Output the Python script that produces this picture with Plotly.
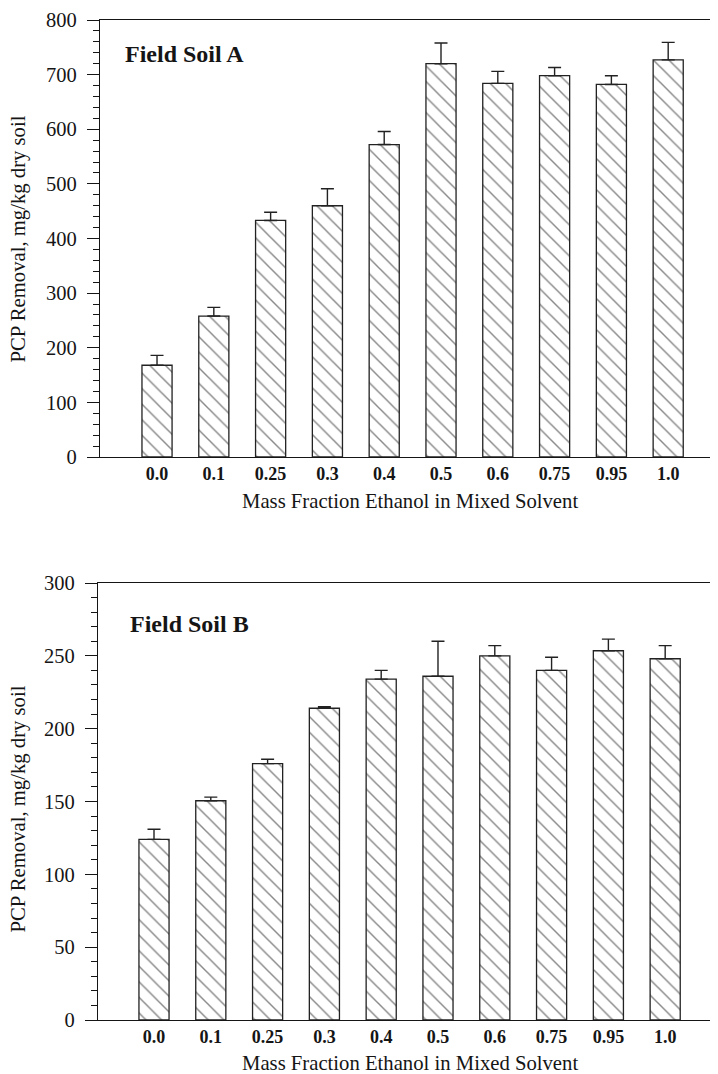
import plotly.graph_objects as go

categories = ["0.0", "0.1", "0.25", "0.3", "0.4", "0.5", "0.6", "0.75", "0.95", "1.0"]

soil_a_values = [168, 258, 433, 460, 572, 720, 684, 698, 682, 727]
soil_a_errors = [18, 16, 15, 31, 24, 38, 22, 15, 16, 32]

soil_b_values = [124, 150.5, 176, 214, 234, 236, 250, 240, 253.5, 248]
soil_b_errors = [7, 2.5, 3, 1, 6, 24, 7, 9, 8, 9]

y_title = "PCP Removal, mg/kg dry soil"
x_title = "Mass Fraction Ethanol in Mixed Solvent"

SERIF = "Liberation Serif"
INK = "#151515"

# the page body has an 8px margin, so the figure starts at page (8, 8)
OFF = 8
W, H = 718 - OFF, 1074 - OFF
ML, MR, MT, MB = 97 - OFF, 0, 20 - OFF, 54
PW, PH = W - ML - MR, H - MT - MB


def px_x(x_page):
    return (x_page - OFF - ML) / PW


def px_y(y_page):
    return (H - MB - (y_page - OFF)) / PH


def bar_trace(vals, errs, xa, ya):
    return go.Bar(
        x=categories, y=vals, xaxis=xa, yaxis=ya, width=0.53,
        marker=dict(color="white",
                    line=dict(color="#222222", width=1.3),
                    pattern=dict(shape="\\", size=11, solidity=0.13,
                                 fgcolor="#111111", bgcolor="white")),
        error_y=dict(type="data", array=errs, symmetric=False,
                     arrayminus=[0] * len(errs), color="#222222",
                     thickness=1.4, width=6.5),
        showlegend=False, hoverinfo="skip",
    )


fig = go.Figure()
fig.add_trace(bar_trace(soil_a_values, soil_a_errors, "x", "y"))
fig.add_trace(bar_trace(soil_b_values, soil_b_errors, "x2", "y2"))

xcommon = dict(type="category", categoryorder="array", categoryarray=categories,
               showline=True, linecolor=INK, linewidth=1.3, mirror=True,
               ticks="", showgrid=False, zeroline=False,
               tickfont=dict(family=SERIF, size=18, color=INK, weight="bold"),
               fixedrange=True)
ycommon = dict(showline=True, linecolor=INK, linewidth=1.3, ticks="outside",
               ticklen=12, tickwidth=1.3, tickcolor=INK, showgrid=False,
               zeroline=False, ticklabelstandoff=6,
               tickfont=dict(family=SERIF, size=20.5, color=INK), fixedrange=True)

fig.update_layout(
    width=W, height=H,
    margin=dict(l=ML, r=MR, t=MT, b=MB),
    paper_bgcolor="white", plot_bgcolor="white",
    bargap=0.47,
    xaxis=dict(xcommon, domain=[px_x(100), 1], anchor="y",
               range=[-1.004, 9.877]),
    yaxis=dict(ycommon, domain=[px_y(457), px_y(20)], anchor="x",
               range=[0, 800], tickvals=list(range(0, 801, 100)),
               minor=dict(tickvals=[v for v in range(0, 801, 20) if v % 100],
                          ticks="outside", ticklen=6, tickwidth=1.1,
                          tickcolor=INK, showgrid=False)),
    xaxis2=dict(xcommon, domain=[px_x(98), 1], anchor="y2",
                range=[-0.986, 9.93]),
    yaxis2=dict(ycommon, domain=[px_y(1020), px_y(583)], anchor="x2",
                range=[0, 300], tickvals=list(range(0, 301, 50)),
                minor=dict(tickvals=[v for v in range(0, 301, 10) if v % 50],
                           ticks="outside", ticklen=6, tickwidth=1.1,
                           tickcolor=INK, showgrid=False)),
)

annos = [
    dict(text="Field Soil A", xref="paper", yref="paper", x=px_x(123), y=px_y(54),
         xanchor="left", yanchor="middle", showarrow=False,
         font=dict(family=SERIF, size=24, color=INK, weight="bold")),
    dict(text="Field Soil B", xref="paper", yref="paper", x=px_x(128), y=px_y(624),
         xanchor="left", yanchor="middle", showarrow=False,
         font=dict(family=SERIF, size=24, color=INK, weight="bold")),
    dict(text=x_title, xref="paper", yref="paper", x=px_x(409.5), y=px_y(501),
         xanchor="center", yanchor="middle", showarrow=False,
         font=dict(family=SERIF, size=20.7, color=INK)),
    dict(text=x_title, xref="paper", yref="paper", x=px_x(409.5), y=px_y(1063),
         xanchor="center", yanchor="middle", showarrow=False,
         font=dict(family=SERIF, size=20.7, color=INK)),
    dict(text=y_title, xref="paper", yref="paper", x=px_x(18), y=px_y(239.5),
         xanchor="center", yanchor="middle", textangle=-90, showarrow=False,
         font=dict(family=SERIF, size=20.7, color=INK)),
    dict(text=y_title, xref="paper", yref="paper", x=px_x(18), y=px_y(809.5),
         xanchor="center", yanchor="middle", textangle=-90, showarrow=False,
         font=dict(family=SERIF, size=20.7, color=INK)),
]
fig.update_layout(annotations=annos)

fig.write_html("out.html")
